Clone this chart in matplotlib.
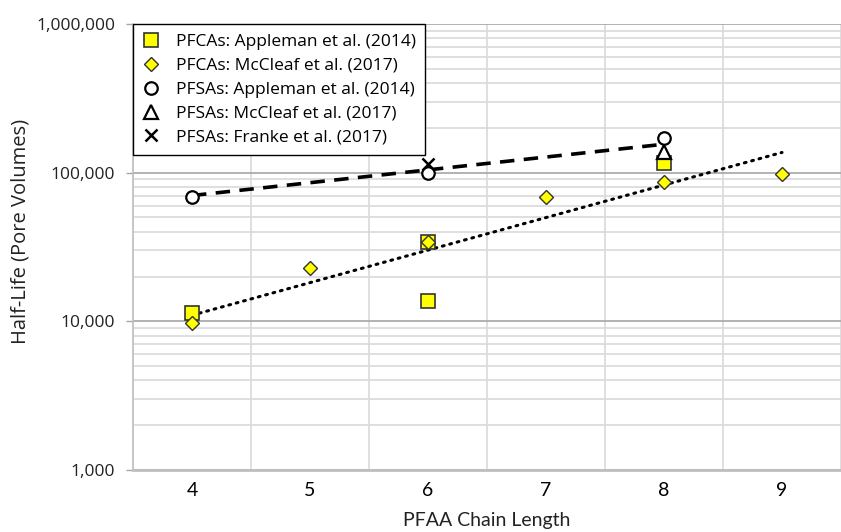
import numpy as np
import matplotlib
matplotlib.use("Agg")
import matplotlib.pyplot as plt
from matplotlib.ticker import FixedLocator, FuncFormatter, LogLocator, NullFormatter

# PFCAs
pfca_app_x = [4, 6, 6, 8]
pfca_app_y = [11400, 34300, 13800, 115500]
pfca_mcc_x = [4, 5, 6, 7, 8, 9]
pfca_mcc_y = [9800, 23000, 34300, 69000, 86000, 98000]

# PFSAs
pfsa_app_x = [4, 6, 8]
pfsa_app_y = [69000, 99000, 172000]
pfsa_mcc_x = [8]
pfsa_mcc_y = [138000]
pfsa_fra_x = [6]
pfsa_fra_y = [114000]

x_ticks = [4, 5, 6, 7, 8, 9]
y_ticks = [1e3, 1e4, 1e5, 1e6]

YELLOW = "#FFFF00"
MAJ_GRID = "#A6A6A6"
MIN_GRID = "#D9D9D9"

fig = plt.figure(figsize=(8.41, 5.32), dpi=100)
ax = fig.add_axes([133 / 841, 1 - 470 / 532, 708 / 841, 446 / 532])

ax.set_yscale("log")
ax.set_xlim(3.5, 9.5)
ax.set_ylim(1e3, 1e6)


def exp_trend(xs, ys):
    xs = np.asarray(xs, float)
    k, b = np.polyfit(xs, np.log10(ys), 1)
    xx = np.array([xs.min(), xs.max()])
    return xx, 10 ** (k * xx + b)


# trendlines fitted over each acid group
tx, ty = exp_trend(pfca_app_x + pfca_mcc_x, pfca_app_y + pfca_mcc_y)
ax.plot(tx, ty, color="black", lw=2.2, linestyle=(0, (0.6, 1.9)),
        dash_capstyle="round", zorder=3)
tx, ty = exp_trend(pfsa_app_x + pfsa_mcc_x + pfsa_fra_x,
                   pfsa_app_y + pfsa_mcc_y + pfsa_fra_y)
ax.plot(tx, ty, color="black", lw=2.6, linestyle=(0, (4, 2.6)), zorder=3)

ax.plot(pfca_app_x, pfca_app_y, "s", ms=10, mfc=YELLOW, mec="#333333", mew=1.2,
        ls="none", zorder=4, label="PFCAs: Appleman et al. (2014)")
ax.plot(pfca_mcc_x, pfca_mcc_y, "D", ms=7.5, mfc=YELLOW, mec="#333333", mew=1.0,
        ls="none", zorder=5, label="PFCAs: McCleaf et al. (2017)")
ax.plot(pfsa_app_x, pfsa_app_y, "o", ms=9, mfc="white", mec="black", mew=1.6,
        ls="none", zorder=5, label="PFSAs: Appleman et al. (2014)")
ax.plot(pfsa_mcc_x, pfsa_mcc_y, "^", ms=10, mfc="white", mec="black", mew=1.6,
        ls="none", zorder=5, label="PFSAs: McCleaf et al. (2017)")
ax.plot(pfsa_fra_x, pfsa_fra_y, "x", ms=8, mec="black", mew=1.8,
        ls="none", zorder=5, label="PFSAs: Franke et al. (2017)")

# grid: vertical lines between categories, major + minor horizontal lines
ax.xaxis.set_major_locator(FixedLocator(x_ticks))
ax.xaxis.set_minor_locator(FixedLocator([v + 0.5 for v in range(3, 10)]))
ax.yaxis.set_major_locator(FixedLocator(y_ticks))
ax.yaxis.set_minor_locator(LogLocator(base=10, subs=np.arange(2, 10)))
ax.yaxis.set_minor_formatter(NullFormatter())
ax.yaxis.set_major_formatter(FuncFormatter(lambda v, p: f"{int(round(v)):,}"))

ax.grid(which="minor", axis="x", color=MIN_GRID, lw=1.2)
ax.grid(which="major", axis="y", color=MAJ_GRID, lw=1.2)
ax.grid(which="minor", axis="y", color=MIN_GRID, lw=1.2)
ax.set_axisbelow(True)

ax.tick_params(axis="x", which="both", length=0, pad=9)
ax.tick_params(axis="y", which="major", length=5, color=MAJ_GRID, width=1, pad=8)
ax.tick_params(axis="y", which="minor", length=0)

for lbl in ax.get_xticklabels():
    lbl.set_fontfamily("Lato")
    lbl.set_fontsize(14)
for lbl in ax.get_yticklabels():
    lbl.set_fontfamily("Open Sans")
    lbl.set_fontsize(12.5)
    lbl.set_color("#222222")

for side in ("top", "right"):
    ax.spines[side].set_visible(False)
ax.spines["left"].set_color("#BFBFBF")
ax.spines["left"].set_linewidth(1.2)
ax.spines["bottom"].set_color("#BFBFBF")
ax.spines["bottom"].set_linewidth(2)

ax.set_xlabel("PFAA Chain Length", fontfamily="Lato", fontsize=14,
              labelpad=9, color="#222222")
ax.set_ylabel("Half-Life (Pore Volumes)", fontfamily="Open Sans", fontsize=14.5,
              color="#222222")
ax.yaxis.set_label_coords(-0.145, 0.535)

leg = ax.legend(loc="upper left", bbox_to_anchor=(0, 1), frameon=True,
                fancybox=False, edgecolor="black", framealpha=1,
                prop={"family": "Open Sans", "size": 12.5},
                handletextpad=0.9, labelspacing=0.45, borderpad=0.55,
                handlelength=1.0, borderaxespad=0)
leg.get_frame().set_linewidth(1.0)

fig.savefig("out.png", dpi=100)
